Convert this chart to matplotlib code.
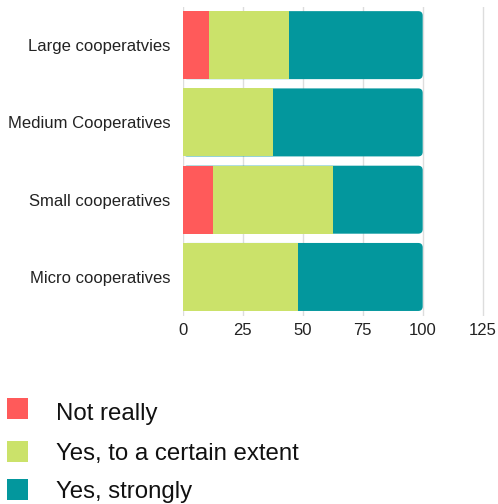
import matplotlib
matplotlib.use("Agg")
import matplotlib.pyplot as plt
from matplotlib.patches import FancyBboxPatch, Rectangle
import numpy as np

plt.rcParams['font.family'] = ['Liberation Sans', 'DejaVu Sans']

categories = ["Large cooperatvies", "Medium Cooperatives", "Small cooperatives", "Micro cooperatives"]
series_names = ["Not really", "Yes, to a certain extent", "Yes, strongly"]
not_really = [11.1, 0.0, 12.5, 0.0]
certain_extent = [33.3, 37.5, 50.0, 48.0]
strongly = [55.6, 62.5, 37.5, 52.0]
x_ticks = [0, 25, 50, 75, 100, 125]
colors = ["#FF5A5A", "#CBE26A", "#03979D"]

W, H = 498, 504
fig = plt.figure(figsize=(W / 100, H / 100), dpi=100)
left_px, right_px = 182.7, 494.7
top_px, bot_px = 6.5, 315.6
ax = fig.add_axes([left_px / W, 1 - bot_px / H, (right_px - left_px) / W, (bot_px - top_px) / H])

y = np.arange(len(categories))
bar_h = 0.88
xmax = 130
ax.set_xlim(0, xmax)
ax.set_ylim(len(categories) - 0.5, -0.5)

# rounded full-length bar in the last series colour
px_per_x = (right_px - left_px) / xmax
px_per_y = (bot_px - top_px) / len(categories)
r_px = 4.5
for i in range(len(categories)):
    total = not_really[i] + certain_extent[i] + strongly[i]
    p = FancyBboxPatch((0, y[i] - bar_h / 2), total, bar_h,
                       boxstyle=f"round,pad=0,rounding_size={r_px / px_per_x}",
                       mutation_aspect=px_per_x / px_per_y,
                       facecolor=colors[2], edgecolor='none', zorder=3)
    ax.add_patch(p)

ax.barh(y, not_really, height=bar_h, color=colors[0], zorder=4, linewidth=0)
ax.barh(y, certain_extent, left=not_really, height=bar_h, color=colors[1], zorder=4, linewidth=0)

ax.set_xticks(x_ticks)
ax.set_xticklabels([str(t) for t in x_ticks])
ax.set_yticks(y)
ax.set_yticklabels(categories)
ax.tick_params(axis='both', length=0, labelsize=12, colors='#222222')
ax.tick_params(axis='y', pad=9)
ax.tick_params(axis='x', pad=5)
ax.grid(axis='x', color='#dddddd', linewidth=1, zorder=0)
ax.set_axisbelow(True)
for s in ax.spines.values():
    s.set_visible(False)

# legend
sq_x, sq = 7, 21
sq_centers = [408.7, 451.7, 489.7]
baselines = [420, 460, 498.3]
for name, c, cy, bl in zip(series_names, colors, sq_centers, baselines):
    fig.patches.append(Rectangle(((sq_x) / W, 1 - (cy + sq / 2) / H), sq / W, sq / H,
                                 transform=fig.transFigure, facecolor=c, edgecolor='none'))
    fig.text(56 / W, 1 - bl / H, name, fontsize=17.3, va='baseline', ha='left', color='#111111')

fig.savefig("out.png", dpi=100)
